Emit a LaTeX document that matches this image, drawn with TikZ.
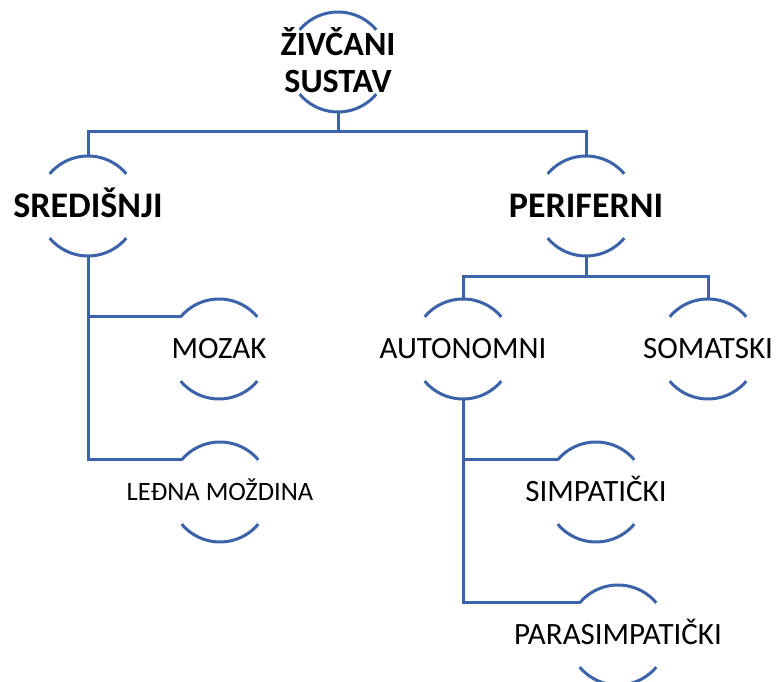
\documentclass[tikz,border=0pt]{standalone}
\usepackage{fontspec}
\setmainfont{Carlito}
\definecolor{plava}{RGB}{60,98,170}
\begin{document}
\begin{tikzpicture}[x=1pt,y=1pt,
    krug/.style={circle, minimum size=100pt, inner sep=0pt, outer sep=0pt},
    natpis/.style={inner sep=0pt, text height=19.5pt, text depth=0pt, font=\fontsize{31}{36}\selectfont},
    mali/.style={natpis, text height=16.7pt, font=\fontsize{26.5}{30}\selectfont},
    veliki/.style={natpis, text height=22.7pt, font=\bfseries\fontsize{36}{40}\selectfont},
    linija/.style={draw=plava, line width=3pt}]
    \clip (0,0) rectangle (777,682);

    % krugovi
    \node[krug] (zs) at (338,620) {};
    \node[krug] (sre) at (88,476) {};
    \node[krug] (per) at (586,476) {};
    \node[krug] (moz) at (219,333) {};
    \node[krug] (led) at (220,190) {};
    \node[krug] (aut) at (463,333) {};
    \node[krug] (som) at (708,333) {};
    \node[krug] (sim) at (596,190) {};
    \node[krug] (par) at (618,47) {};

    \foreach \n in {zs,sre,per,moz,led,aut,som,sim,par}{
        \draw[linija] (\n.140) arc[start angle=140, end angle=40, radius=50pt];
        \draw[linija] (\n.220) arc[start angle=220, end angle=320, radius=50pt];
    }

    % veze
    \draw[linija] (zs.south) -- ++(0,-20) -| (sre.north);
    \draw[linija] (zs.south) -- ++(0,-20) -| (per.north);
    \draw[linija] (sre.south) |- (moz.140);
    \draw[linija] (sre.south) |- (led.140);
    \draw[linija] (per.south) -- ++(0,-21) -| (aut.north);
    \draw[linija] (per.south) -- ++(0,-21) -| (som.north);
    \draw[linija] (aut.south) |- (sim.140);
    \draw[linija] (aut.south) |- (par.140);

    % natpisi
    \node[inner sep=0pt, align=center, font=\bfseries\fontsize{34}{37}\selectfont] (zs-t) at ([yshift=2pt]zs) {ŽIVČANI\\SUSTAV};
    \node[veliki] (sre-t) at (sre) {SREDIŠNJI};
    \node[veliki] (per-t) at (per) {PERIFERNI};
    \node[natpis] (moz-t) at (moz) {MOZAK};
    \node[mali] (led-t) at (led) {LEĐNA MOŽDINA};
    \node[natpis] (aut-t) at (aut) {AUTONOMNI};
    \node[natpis] (som-t) at (som) {SOMATSKI};
    \node[natpis] (sim-t) at (sim) {SIMPATIČKI};
    \node[natpis] (par-t) at (par) {PARASIMPATIČKI};
\end{tikzpicture}
\end{document}
